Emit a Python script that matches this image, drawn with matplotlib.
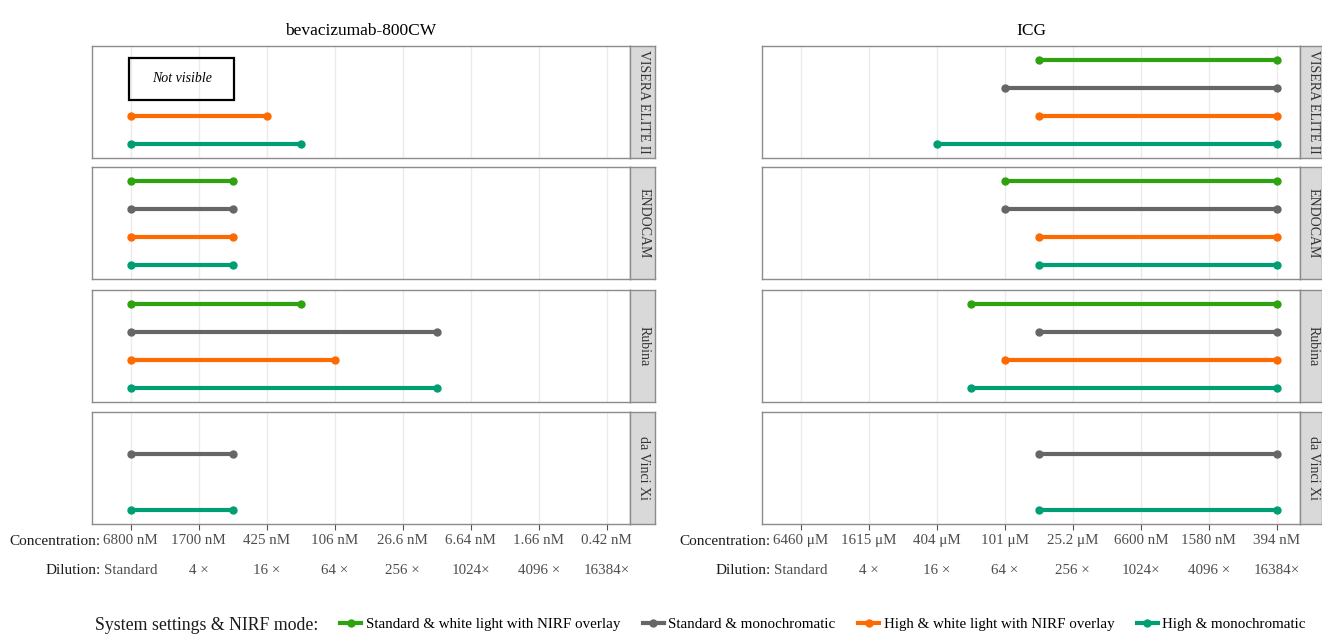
import matplotlib.pyplot as plt
from matplotlib.lines import Line2D
from matplotlib.patches import Rectangle

plt.rcParams['font.family'] = ['Liberation Serif', 'DejaVu Serif']

# Facets, series and tick labels
systems = ["VISERA ELITE II", "ENDOCAM", "Rubina", "da Vinci Xi"]
modes = ["Standard & white light with NIRF overlay", "Standard & monochromatic",
         "High & white light with NIRF overlay", "High & monochromatic"]
mode_colors = ["#2FA30F", "#666666", "#FF6A00", "#009E73"]
mode_y = [4, 3, 2, 1]

dilution_labels = ["Standard", "4 ×", "16 ×", "64 ×", "256 ×", "1024×", "4096 ×", "16384×"]
bev_conc = ["6800 nM", "1700 nM", "425 nM", "106 nM", "26.6 nM", "6.64 nM", "1.66 nM", "0.42 nM"]
icg_conc = ["6460 μM", "1615 μM", "404 μM", "101 μM", "25.2 μM", "6600 nM", "1580 nM", "394 nM"]

# bevacizumab-800CW: visible from standard (0) up to the dilution step below
bev_start = 0
bev_end = {
    "VISERA ELITE II": [None, None, 2, 2.5],
    "ENDOCAM": [1.5, 1.5, 1.5, 1.5],
    "Rubina": [2.5, 4.5, 3, 4.5],
    "da Vinci Xi": [None, 1.5, None, 1.5],
}
# ICG: visible from the step below up to 16384x (7)
icg_end = 7
icg_start = {
    "VISERA ELITE II": [3.5, 3, 3.5, 2],
    "ENDOCAM": [3, 3, 3.5, 3.5],
    "Rubina": [2.5, 3.5, 3, 2.5],
    "da Vinci Xi": [None, 3.5, None, 3.5],
}

W, H = 1322, 635
fig = plt.figure(figsize=(W / 100, H / 100), dpi=100)

row_tops = [46, 167, 290, 412]
row_h = 112
cols = [(92, 630, 25), (762, 1300, 22)]
titles = ["bevacizumab-800CW", "ICG"]
conc_sets = [bev_conc, icg_conc]


def fx(px):
    return px / W


def fy(py):
    return 1 - py / H


for c, (x0, x1, sw) in enumerate(cols):
    for r, sysname in enumerate(systems):
        top = row_tops[r]
        ax = fig.add_axes([fx(x0), fy(top + row_h), fx(x1 - x0), row_h / H])
        ax.set_xlim(-0.57, 7.34)
        ax.set_ylim(0.5, 4.5)
        ax.set_xticks(range(8))
        ax.set_yticks([])
        ax.grid(axis='x', color='#EBEBEB', linewidth=1)
        ax.set_axisbelow(True)
        for s in ax.spines.values():
            s.set_color('#8C8C8C')
            s.set_linewidth(1)

        for m in range(4):
            if c == 0:
                end = bev_end[sysname][m]
                if end is None:
                    continue
                xs = [bev_start, end]
            else:
                st = icg_start[sysname][m]
                if st is None:
                    continue
                xs = [st, icg_end]
            ax.plot(xs, [mode_y[m], mode_y[m]], color=mode_colors[m], lw=3,
                    marker='o', ms=5, solid_capstyle='round')

        if c == 0 and sysname == "VISERA ELITE II":
            # "Not visible" note box over the two missing series
            ax.add_patch(Rectangle((-0.02, 2.57), 1.54, 1.5, fill=False,
                                   ec='black', lw=1.6, zorder=3))
            ax.text(0.75, 3.33, "Not visible", style='italic', fontsize=10,
                    ha='center', va='center', zorder=4)

        if r == 3:
            ax.set_xticklabels(conc_sets[c], fontsize=10.8, color='#4D4D4D')
            ax.tick_params(axis='x', length=4, color='#555555', pad=3)
            for i, lab in enumerate(dilution_labels):
                ax.text(i, -0.4, lab, transform=ax.get_xaxis_transform(),
                        ha='center', va='center_baseline', fontsize=10.8, color='#4D4D4D')
        else:
            ax.tick_params(axis='x', length=0, labelbottom=False)

        if r == 0:
            ax.set_title(titles[c], fontsize=12.5, pad=8)

        # facet strip on the right
        sax = fig.add_axes([fx(x1), fy(top + row_h), fx(sw), row_h / H])
        sax.set_facecolor('#D9D9D9')
        sax.set_xticks([])
        sax.set_yticks([])
        for s in sax.spines.values():
            s.set_color('#8C8C8C')
            s.set_linewidth(1)
        sax.text(0.55 if c == 0 else 0.6, 0.5, sysname, rotation=-90, ha='center', va='center',
                 fontsize=10, color='#333333', transform=sax.transAxes)

    fig.text(fx(x0 + 9), fy(540), "Concentration:", ha='right', va='center_baseline',
             fontsize=11, color='#1A1A1A')
    fig.text(fx(x0 + 9), fy(569), "Dilution:", ha='right', va='center_baseline',
             fontsize=11, color='#1A1A1A')

# bottom legend
fig.text(fx(95), fy(624), "System settings & NIRF mode:", ha='left', va='center_baseline',
         fontsize=12.8, color='#1A1A1A')
handles = [Line2D([0], [0], color=col, lw=3, marker='o', ms=5) for col in mode_colors]
fig.legend(handles, modes, loc='center', bbox_to_anchor=(fx(823), fy(624)), ncol=4,
           frameon=False, fontsize=10.8, handlelength=1.4, handletextpad=0.3,
           columnspacing=1.5, borderpad=0)

fig.savefig("out.png", dpi=100)
